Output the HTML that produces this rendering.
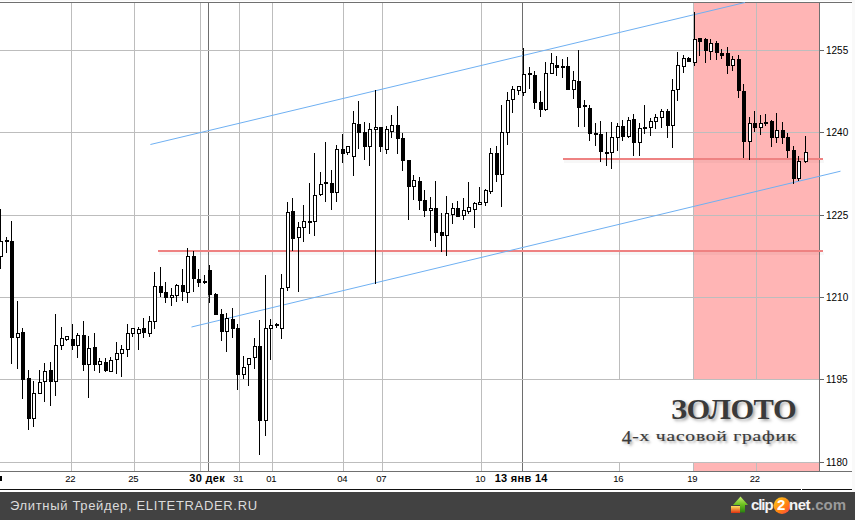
<!DOCTYPE html>
<html><head><meta charset="utf-8">
<style>
html,body{margin:0;padding:0;}
body{width:855px;height:520px;overflow:hidden;background:#fff;position:relative;font-family:"Liberation Sans",sans-serif;}
svg{position:absolute;left:0;top:0;}
.pl{position:absolute;left:826px;font-size:10px;line-height:10px;color:#000;}
.tl{position:absolute;top:473.5px;font-size:9.5px;line-height:10px;color:#000;letter-spacing:-0.35px;transform:translateX(calc(-50% - 0.8px));white-space:nowrap;}
.tb{font-weight:bold;font-size:11px;top:473px;letter-spacing:0.3px;}
.footer{position:absolute;left:0;top:492px;width:855px;height:28px;background:#424242;}
.ft{position:absolute;left:10px;top:497px;font-size:13px;line-height:18px;color:#dcdcdc;letter-spacing:0.66px;white-space:nowrap;}
.lg{position:absolute;top:496px;font-size:15px;line-height:18px;font-weight:bold;white-space:nowrap;}
.t1{position:absolute;right:59px;top:393px;font-family:"Liberation Serif",serif;font-weight:bold;font-size:29px;line-height:32px;letter-spacing:-0.5px;transform:scaleX(1.05);transform-origin:100% 50%;color:#3a3a3a;text-shadow:2px 2px 3px rgba(0,0,0,0.35);white-space:nowrap;}
.t2{position:absolute;right:58px;top:424px;font-family:"Liberation Serif",serif;font-size:19.5px;line-height:22px;letter-spacing:0.8px;transform:scaleY(0.74);transform-origin:50% 78%;-webkit-text-stroke:0.25px #3a3a3a;color:#3a3a3a;text-shadow:2px 2px 3px rgba(0,0,0,0.35);white-space:nowrap;}
</style></head><body>
<svg width="855" height="520" viewBox="0 0 855 520" shape-rendering="crispEdges">
<rect x="694" y="3" width="125" height="468" fill="#ffb5b5"/>
<rect x="71" y="3" width="1" height="468" fill="#bdbdbd"/>
<rect x="134" y="3" width="1" height="468" fill="#bdbdbd"/>
<rect x="200" y="3" width="1" height="468" fill="#bdbdbd"/>
<rect x="239" y="3" width="1" height="468" fill="#bdbdbd"/>
<rect x="272" y="3" width="1" height="468" fill="#bdbdbd"/>
<rect x="343" y="3" width="1" height="468" fill="#bdbdbd"/>
<rect x="382" y="3" width="1" height="468" fill="#bdbdbd"/>
<rect x="481" y="3" width="1" height="468" fill="#bdbdbd"/>
<rect x="619" y="3" width="1" height="468" fill="#bdbdbd"/>
<rect x="693" y="3" width="1" height="468" fill="#bdbdbd"/>
<rect x="756" y="3" width="1" height="468" fill="#bdbdbd"/>
<rect x="208" y="3" width="1" height="468" fill="#6e6e6e"/>
<rect x="522" y="3" width="1" height="468" fill="#6e6e6e"/>
<rect x="0" y="50" width="819" height="1" fill="#bdbdbd"/>
<rect x="820" y="50" width="4" height="1" fill="#666"/>
<rect x="0" y="132" width="819" height="1" fill="#bdbdbd"/>
<rect x="820" y="132" width="4" height="1" fill="#666"/>
<rect x="0" y="215" width="819" height="1" fill="#bdbdbd"/>
<rect x="820" y="215" width="4" height="1" fill="#666"/>
<rect x="0" y="297" width="819" height="1" fill="#bdbdbd"/>
<rect x="820" y="297" width="4" height="1" fill="#666"/>
<rect x="0" y="379" width="819" height="1" fill="#bdbdbd"/>
<rect x="820" y="379" width="4" height="1" fill="#666"/>
<rect x="0" y="462" width="819" height="1" fill="#bdbdbd"/>
<rect x="820" y="462" width="4" height="1" fill="#666"/>
<rect x="0" y="0" width="855" height="1" fill="#f8f8f8"/>
<rect x="0" y="2" width="852" height="1" fill="#707070"/>
<rect x="852" y="0" width="3" height="492" fill="#f9f9f9"/>
<rect x="819" y="3" width="1" height="468" fill="#707070"/>
<rect x="0" y="471" width="852" height="1" fill="#707070"/>
<rect x="0" y="489" width="801" height="1" fill="#111"/>
<rect x="802" y="489" width="50" height="1" fill="#111"/>
<rect x="159" y="252" width="665" height="3" fill="#000" fill-opacity="0.03"/>
<rect x="158" y="250" width="665" height="2" fill="#ee8282"/>
<rect x="564" y="160" width="260" height="3" fill="#000" fill-opacity="0.03"/>
<rect x="563" y="158" width="260" height="2" fill="#ee8282"/>
<rect x="540" y="380" width="279" height="82" fill="#ffffff"/>
<g shape-rendering="auto"><line x1="150.4" y1="144.5" x2="745" y2="2.5" stroke="#6fb0f2" stroke-width="1"/>
<line x1="191.5" y1="327" x2="840.5" y2="171.2" stroke="#6fb0f2" stroke-width="1"/></g>
<g fill="#000">
<rect x="0" y="209" width="1" height="60"/>
<rect x="-1" y="241" width="4" height="16"/>
<rect x="0" y="242" width="2" height="14" fill="#fff"/>
<rect x="6" y="237" width="1" height="16"/>
<rect x="5" y="240" width="4" height="2"/>
<rect x="11" y="221" width="1" height="143"/>
<rect x="10" y="241" width="4" height="97"/>
<rect x="17" y="301" width="1" height="68"/>
<rect x="16" y="333" width="4" height="5"/>
<rect x="17" y="334" width="2" height="3" fill="#fff"/>
<rect x="22" y="328" width="1" height="71"/>
<rect x="21" y="332" width="4" height="48"/>
<rect x="28" y="370" width="1" height="60"/>
<rect x="27" y="378" width="4" height="41"/>
<rect x="33" y="381" width="1" height="46"/>
<rect x="32" y="393" width="4" height="26"/>
<rect x="33" y="394" width="2" height="24" fill="#fff"/>
<rect x="39" y="370" width="1" height="24"/>
<rect x="38" y="382" width="4" height="12"/>
<rect x="39" y="383" width="2" height="10" fill="#fff"/>
<rect x="44" y="363" width="1" height="39"/>
<rect x="43" y="371" width="4" height="11"/>
<rect x="44" y="372" width="2" height="9" fill="#fff"/>
<rect x="50" y="362" width="1" height="44"/>
<rect x="49" y="370" width="4" height="12"/>
<rect x="55" y="314" width="1" height="82"/>
<rect x="54" y="345" width="4" height="37"/>
<rect x="55" y="346" width="2" height="35" fill="#fff"/>
<rect x="61" y="327" width="1" height="23"/>
<rect x="60" y="338" width="4" height="8"/>
<rect x="61" y="339" width="2" height="6" fill="#fff"/>
<rect x="66" y="336" width="1" height="5"/>
<rect x="65" y="336" width="4" height="4"/>
<rect x="66" y="337" width="2" height="2" fill="#fff"/>
<rect x="72" y="324" width="1" height="26"/>
<rect x="71" y="339" width="4" height="7"/>
<rect x="77" y="333" width="1" height="25"/>
<rect x="76" y="335" width="4" height="11"/>
<rect x="77" y="336" width="2" height="9" fill="#fff"/>
<rect x="83" y="321" width="1" height="50"/>
<rect x="82" y="335" width="4" height="30"/>
<rect x="88" y="336" width="1" height="62"/>
<rect x="87" y="348" width="4" height="17"/>
<rect x="88" y="349" width="2" height="15" fill="#fff"/>
<rect x="94" y="333" width="1" height="38"/>
<rect x="93" y="347" width="4" height="18"/>
<rect x="99" y="358" width="1" height="15"/>
<rect x="98" y="361" width="4" height="4"/>
<rect x="99" y="362" width="2" height="2" fill="#fff"/>
<rect x="105" y="358" width="1" height="14"/>
<rect x="104" y="362" width="4" height="9"/>
<rect x="110" y="357" width="1" height="15"/>
<rect x="109" y="360" width="4" height="12"/>
<rect x="110" y="361" width="2" height="10" fill="#fff"/>
<rect x="116" y="342" width="1" height="32"/>
<rect x="115" y="353" width="4" height="7"/>
<rect x="116" y="354" width="2" height="5" fill="#fff"/>
<rect x="121" y="345" width="1" height="32"/>
<rect x="120" y="349" width="4" height="5"/>
<rect x="121" y="350" width="2" height="3" fill="#fff"/>
<rect x="127" y="324" width="1" height="33"/>
<rect x="126" y="333" width="4" height="17"/>
<rect x="127" y="334" width="2" height="15" fill="#fff"/>
<rect x="132" y="328" width="1" height="9"/>
<rect x="131" y="328" width="4" height="6"/>
<rect x="132" y="329" width="2" height="4" fill="#fff"/>
<rect x="138" y="327" width="1" height="23"/>
<rect x="137" y="329" width="4" height="5"/>
<rect x="138" y="330" width="2" height="3" fill="#fff"/>
<rect x="143" y="318" width="1" height="20"/>
<rect x="142" y="328" width="4" height="5"/>
<rect x="149" y="316" width="1" height="21"/>
<rect x="148" y="321" width="4" height="13"/>
<rect x="149" y="322" width="2" height="11" fill="#fff"/>
<rect x="154" y="272" width="1" height="57"/>
<rect x="153" y="286" width="4" height="36"/>
<rect x="154" y="287" width="2" height="34" fill="#fff"/>
<rect x="160" y="267" width="1" height="30"/>
<rect x="159" y="286" width="4" height="7"/>
<rect x="165" y="282" width="1" height="21"/>
<rect x="164" y="292" width="4" height="6"/>
<rect x="171" y="288" width="1" height="18"/>
<rect x="170" y="295" width="4" height="3"/>
<rect x="171" y="296" width="2" height="1" fill="#fff"/>
<rect x="176" y="284" width="1" height="18"/>
<rect x="175" y="285" width="4" height="11"/>
<rect x="176" y="286" width="2" height="9" fill="#fff"/>
<rect x="182" y="269" width="1" height="32"/>
<rect x="181" y="285" width="4" height="7"/>
<rect x="187" y="248" width="1" height="55"/>
<rect x="186" y="256" width="4" height="37"/>
<rect x="187" y="257" width="2" height="35" fill="#fff"/>
<rect x="193" y="251" width="1" height="41"/>
<rect x="192" y="256" width="4" height="23"/>
<rect x="198" y="269" width="1" height="18"/>
<rect x="197" y="279" width="4" height="4"/>
<rect x="204" y="275" width="1" height="9"/>
<rect x="203" y="281" width="4" height="2"/>
<rect x="209" y="265" width="1" height="38"/>
<rect x="208" y="270" width="4" height="25"/>
<rect x="215" y="293" width="1" height="22"/>
<rect x="214" y="294" width="4" height="21"/>
<rect x="221" y="309" width="1" height="32"/>
<rect x="220" y="314" width="4" height="18"/>
<rect x="226" y="313" width="1" height="39"/>
<rect x="225" y="318" width="4" height="14"/>
<rect x="226" y="319" width="2" height="12" fill="#fff"/>
<rect x="232" y="308" width="1" height="30"/>
<rect x="231" y="319" width="4" height="10"/>
<rect x="237" y="324" width="1" height="66"/>
<rect x="236" y="328" width="4" height="47"/>
<rect x="243" y="356" width="1" height="23"/>
<rect x="242" y="367" width="4" height="8"/>
<rect x="243" y="368" width="2" height="6" fill="#fff"/>
<rect x="248" y="358" width="1" height="28"/>
<rect x="247" y="358" width="4" height="7"/>
<rect x="248" y="359" width="2" height="5" fill="#fff"/>
<rect x="254" y="338" width="1" height="31"/>
<rect x="253" y="346" width="4" height="12"/>
<rect x="254" y="347" width="2" height="10" fill="#fff"/>
<rect x="259" y="320" width="1" height="135"/>
<rect x="258" y="346" width="4" height="75"/>
<rect x="265" y="275" width="1" height="161"/>
<rect x="264" y="328" width="4" height="93"/>
<rect x="265" y="329" width="2" height="91" fill="#fff"/>
<rect x="270" y="319" width="1" height="41"/>
<rect x="269" y="325" width="4" height="4"/>
<rect x="270" y="326" width="2" height="2" fill="#fff"/>
<rect x="276" y="323" width="1" height="5"/>
<rect x="275" y="324" width="4" height="2"/>
<rect x="281" y="274" width="1" height="65"/>
<rect x="280" y="288" width="4" height="41"/>
<rect x="281" y="289" width="2" height="39" fill="#fff"/>
<rect x="287" y="202" width="1" height="89"/>
<rect x="286" y="212" width="4" height="76"/>
<rect x="287" y="213" width="2" height="74" fill="#fff"/>
<rect x="292" y="198" width="1" height="53"/>
<rect x="291" y="211" width="4" height="28"/>
<rect x="298" y="222" width="1" height="70"/>
<rect x="297" y="227" width="4" height="11"/>
<rect x="298" y="228" width="2" height="9" fill="#fff"/>
<rect x="303" y="205" width="1" height="37"/>
<rect x="302" y="221" width="4" height="7"/>
<rect x="303" y="222" width="2" height="5" fill="#fff"/>
<rect x="309" y="183" width="1" height="51"/>
<rect x="308" y="221" width="4" height="2"/>
<rect x="314" y="153" width="1" height="83"/>
<rect x="313" y="195" width="4" height="27"/>
<rect x="314" y="196" width="2" height="25" fill="#fff"/>
<rect x="320" y="172" width="1" height="24"/>
<rect x="319" y="184" width="4" height="11"/>
<rect x="320" y="185" width="2" height="9" fill="#fff"/>
<rect x="325" y="142" width="1" height="60"/>
<rect x="324" y="182" width="4" height="2"/>
<rect x="331" y="170" width="1" height="40"/>
<rect x="330" y="183" width="4" height="10"/>
<rect x="336" y="145" width="1" height="57"/>
<rect x="335" y="149" width="4" height="44"/>
<rect x="336" y="150" width="2" height="42" fill="#fff"/>
<rect x="342" y="134" width="1" height="29"/>
<rect x="341" y="149" width="4" height="5"/>
<rect x="347" y="146" width="1" height="9"/>
<rect x="346" y="146" width="4" height="7"/>
<rect x="347" y="147" width="2" height="5" fill="#fff"/>
<rect x="353" y="111" width="1" height="65"/>
<rect x="352" y="123" width="4" height="34"/>
<rect x="353" y="124" width="2" height="32" fill="#fff"/>
<rect x="358" y="101" width="1" height="48"/>
<rect x="357" y="124" width="4" height="9"/>
<rect x="364" y="122" width="1" height="38"/>
<rect x="363" y="132" width="4" height="15"/>
<rect x="369" y="123" width="1" height="43"/>
<rect x="368" y="129" width="4" height="18"/>
<rect x="369" y="130" width="2" height="16" fill="#fff"/>
<rect x="375" y="90" width="1" height="194"/>
<rect x="374" y="127" width="4" height="3"/>
<rect x="375" y="128" width="2" height="1" fill="#fff"/>
<rect x="380" y="127" width="1" height="25"/>
<rect x="379" y="127" width="4" height="20"/>
<rect x="386" y="126" width="1" height="28"/>
<rect x="385" y="129" width="4" height="21"/>
<rect x="386" y="130" width="2" height="19" fill="#fff"/>
<rect x="391" y="115" width="1" height="23"/>
<rect x="390" y="125" width="4" height="7"/>
<rect x="391" y="126" width="2" height="5" fill="#fff"/>
<rect x="397" y="106" width="1" height="48"/>
<rect x="396" y="125" width="4" height="14"/>
<rect x="402" y="133" width="1" height="38"/>
<rect x="401" y="138" width="4" height="23"/>
<rect x="408" y="160" width="1" height="60"/>
<rect x="407" y="160" width="4" height="27"/>
<rect x="413" y="175" width="1" height="25"/>
<rect x="412" y="180" width="4" height="7"/>
<rect x="413" y="181" width="2" height="5" fill="#fff"/>
<rect x="419" y="177" width="1" height="33"/>
<rect x="418" y="181" width="4" height="20"/>
<rect x="424" y="190" width="1" height="27"/>
<rect x="423" y="200" width="4" height="11"/>
<rect x="430" y="197" width="1" height="44"/>
<rect x="429" y="208" width="4" height="3"/>
<rect x="430" y="209" width="2" height="1" fill="#fff"/>
<rect x="435" y="181" width="1" height="66"/>
<rect x="434" y="208" width="4" height="25"/>
<rect x="441" y="213" width="1" height="39"/>
<rect x="440" y="232" width="4" height="4"/>
<rect x="446" y="196" width="1" height="60"/>
<rect x="445" y="213" width="4" height="23"/>
<rect x="446" y="214" width="2" height="21" fill="#fff"/>
<rect x="452" y="203" width="1" height="21"/>
<rect x="451" y="208" width="4" height="7"/>
<rect x="452" y="209" width="2" height="5" fill="#fff"/>
<rect x="457" y="201" width="1" height="16"/>
<rect x="456" y="208" width="4" height="9"/>
<rect x="463" y="198" width="1" height="22"/>
<rect x="462" y="210" width="4" height="6"/>
<rect x="463" y="211" width="2" height="4" fill="#fff"/>
<rect x="468" y="182" width="1" height="32"/>
<rect x="467" y="207" width="4" height="5"/>
<rect x="468" y="208" width="2" height="3" fill="#fff"/>
<rect x="474" y="202" width="1" height="26"/>
<rect x="473" y="203" width="4" height="7"/>
<rect x="474" y="204" width="2" height="5" fill="#fff"/>
<rect x="479" y="187" width="1" height="18"/>
<rect x="478" y="202" width="4" height="3"/>
<rect x="479" y="203" width="2" height="1" fill="#fff"/>
<rect x="485" y="189" width="1" height="17"/>
<rect x="484" y="190" width="4" height="13"/>
<rect x="485" y="191" width="2" height="11" fill="#fff"/>
<rect x="490" y="148" width="1" height="46"/>
<rect x="489" y="153" width="4" height="39"/>
<rect x="490" y="154" width="2" height="37" fill="#fff"/>
<rect x="496" y="146" width="1" height="36"/>
<rect x="495" y="153" width="4" height="22"/>
<rect x="501" y="105" width="1" height="102"/>
<rect x="500" y="132" width="4" height="43"/>
<rect x="501" y="133" width="2" height="41" fill="#fff"/>
<rect x="507" y="92" width="1" height="53"/>
<rect x="506" y="100" width="4" height="33"/>
<rect x="507" y="101" width="2" height="31" fill="#fff"/>
<rect x="512" y="86" width="1" height="27"/>
<rect x="511" y="89" width="4" height="11"/>
<rect x="512" y="90" width="2" height="9" fill="#fff"/>
<rect x="518" y="86" width="1" height="9"/>
<rect x="517" y="86" width="4" height="5"/>
<rect x="518" y="87" width="2" height="3" fill="#fff"/>
<rect x="523" y="48" width="1" height="48"/>
<rect x="522" y="74" width="4" height="19"/>
<rect x="523" y="75" width="2" height="17" fill="#fff"/>
<rect x="529" y="67" width="1" height="22"/>
<rect x="528" y="73" width="4" height="2"/>
<rect x="534" y="71" width="1" height="38"/>
<rect x="533" y="75" width="4" height="28"/>
<rect x="540" y="91" width="1" height="26"/>
<rect x="539" y="102" width="4" height="8"/>
<rect x="545" y="62" width="1" height="49"/>
<rect x="544" y="73" width="4" height="37"/>
<rect x="545" y="74" width="2" height="35" fill="#fff"/>
<rect x="551" y="53" width="1" height="21"/>
<rect x="550" y="63" width="4" height="11"/>
<rect x="551" y="64" width="2" height="9" fill="#fff"/>
<rect x="556" y="56" width="1" height="20"/>
<rect x="555" y="65" width="4" height="3"/>
<rect x="562" y="59" width="1" height="19"/>
<rect x="561" y="66" width="4" height="2"/>
<rect x="567" y="57" width="1" height="33"/>
<rect x="566" y="66" width="4" height="24"/>
<rect x="573" y="71" width="1" height="28"/>
<rect x="572" y="80" width="4" height="10"/>
<rect x="573" y="81" width="2" height="8" fill="#fff"/>
<rect x="578" y="50" width="1" height="77"/>
<rect x="577" y="81" width="4" height="27"/>
<rect x="584" y="100" width="1" height="27"/>
<rect x="583" y="105" width="4" height="2"/>
<rect x="589" y="105" width="1" height="36"/>
<rect x="588" y="108" width="4" height="26"/>
<rect x="595" y="123" width="1" height="23"/>
<rect x="594" y="133" width="4" height="2"/>
<rect x="600" y="121" width="1" height="41"/>
<rect x="599" y="134" width="4" height="18"/>
<rect x="606" y="132" width="1" height="34"/>
<rect x="605" y="152" width="4" height="2"/>
<rect x="611" y="122" width="1" height="47"/>
<rect x="610" y="137" width="4" height="16"/>
<rect x="611" y="138" width="2" height="14" fill="#fff"/>
<rect x="617" y="123" width="1" height="28"/>
<rect x="616" y="126" width="4" height="12"/>
<rect x="617" y="127" width="2" height="10" fill="#fff"/>
<rect x="622" y="120" width="1" height="21"/>
<rect x="621" y="126" width="4" height="11"/>
<rect x="628" y="117" width="1" height="21"/>
<rect x="627" y="120" width="4" height="17"/>
<rect x="628" y="121" width="2" height="15" fill="#fff"/>
<rect x="633" y="114" width="1" height="42"/>
<rect x="632" y="119" width="4" height="24"/>
<rect x="639" y="123" width="1" height="33"/>
<rect x="638" y="128" width="4" height="15"/>
<rect x="639" y="129" width="2" height="13" fill="#fff"/>
<rect x="644" y="105" width="1" height="29"/>
<rect x="643" y="127" width="4" height="2"/>
<rect x="650" y="118" width="1" height="18"/>
<rect x="649" y="121" width="4" height="7"/>
<rect x="650" y="122" width="2" height="5" fill="#fff"/>
<rect x="655" y="114" width="1" height="15"/>
<rect x="654" y="117" width="4" height="5"/>
<rect x="655" y="118" width="2" height="3" fill="#fff"/>
<rect x="661" y="109" width="1" height="19"/>
<rect x="660" y="111" width="4" height="7"/>
<rect x="661" y="112" width="2" height="5" fill="#fff"/>
<rect x="667" y="109" width="1" height="29"/>
<rect x="666" y="111" width="4" height="15"/>
<rect x="672" y="79" width="1" height="69"/>
<rect x="671" y="90" width="4" height="36"/>
<rect x="672" y="91" width="2" height="34" fill="#fff"/>
<rect x="677" y="52" width="1" height="49"/>
<rect x="676" y="65" width="4" height="25"/>
<rect x="677" y="66" width="2" height="23" fill="#fff"/>
<rect x="683" y="55" width="1" height="18"/>
<rect x="682" y="58" width="4" height="9"/>
<rect x="683" y="59" width="2" height="7" fill="#fff"/>
<rect x="688" y="57" width="1" height="5"/>
<rect x="687" y="58" width="4" height="4"/>
<rect x="694" y="12" width="1" height="54"/>
<rect x="693" y="39" width="4" height="24"/>
<rect x="694" y="40" width="2" height="22" fill="#fff"/>
<rect x="699" y="38" width="1" height="18"/>
<rect x="698" y="38" width="4" height="4"/>
<rect x="705" y="38" width="1" height="25"/>
<rect x="704" y="39" width="4" height="12"/>
<rect x="710" y="39" width="1" height="21"/>
<rect x="709" y="43" width="4" height="9"/>
<rect x="710" y="44" width="2" height="7" fill="#fff"/>
<rect x="716" y="41" width="1" height="19"/>
<rect x="715" y="43" width="4" height="10"/>
<rect x="721" y="49" width="1" height="10"/>
<rect x="720" y="53" width="4" height="3"/>
<rect x="727" y="47" width="1" height="27"/>
<rect x="726" y="53" width="4" height="13"/>
<rect x="732" y="56" width="1" height="15"/>
<rect x="731" y="59" width="4" height="7"/>
<rect x="732" y="60" width="2" height="5" fill="#fff"/>
<rect x="738" y="55" width="1" height="43"/>
<rect x="737" y="59" width="4" height="32"/>
<rect x="743" y="84" width="1" height="74"/>
<rect x="742" y="91" width="4" height="51"/>
<rect x="749" y="117" width="1" height="43"/>
<rect x="748" y="123" width="4" height="19"/>
<rect x="749" y="124" width="2" height="17" fill="#fff"/>
<rect x="754" y="111" width="1" height="21"/>
<rect x="753" y="123" width="4" height="5"/>
<rect x="760" y="115" width="1" height="20"/>
<rect x="759" y="123" width="4" height="5"/>
<rect x="760" y="124" width="2" height="3" fill="#fff"/>
<rect x="765" y="114" width="1" height="12"/>
<rect x="764" y="122" width="4" height="2"/>
<rect x="771" y="120" width="1" height="27"/>
<rect x="770" y="121" width="4" height="17"/>
<rect x="776" y="113" width="1" height="30"/>
<rect x="775" y="130" width="4" height="8"/>
<rect x="776" y="131" width="2" height="6" fill="#fff"/>
<rect x="782" y="122" width="1" height="22"/>
<rect x="781" y="130" width="4" height="8"/>
<rect x="787" y="133" width="1" height="25"/>
<rect x="786" y="137" width="4" height="14"/>
<rect x="793" y="146" width="1" height="38"/>
<rect x="792" y="150" width="4" height="29"/>
<rect x="798" y="156" width="1" height="25"/>
<rect x="797" y="161" width="4" height="18"/>
<rect x="798" y="162" width="2" height="16" fill="#fff"/>
<rect x="805" y="136" width="1" height="27"/>
<rect x="804" y="152" width="4" height="10"/>
<rect x="805" y="153" width="2" height="8" fill="#fff"/>
</g>
</svg>
<div class="pl" style="top:46px">1255</div>
<div class="pl" style="top:128px">1240</div>
<div class="pl" style="top:211px">1225</div>
<div class="pl" style="top:293px">1210</div>
<div class="pl" style="top:375px">1195</div>
<div class="pl" style="top:458px">1180</div>
<div style="position:absolute;left:0;top:476px;width:2px;height:5px;background:#000"></div>
<div class="tl" style="left:71px">22</div>
<div class="tl" style="left:134px">25</div>
<div class="tl tb" style="left:208px">30 дек</div>
<div class="tl" style="left:239px">31</div>
<div class="tl" style="left:272px">01</div>
<div class="tl" style="left:343px">04</div>
<div class="tl" style="left:382px">07</div>
<div class="tl" style="left:481px">10</div>
<div class="tl tb" style="left:522px">13 янв 14</div>
<div class="tl" style="left:619px">16</div>
<div class="tl" style="left:693px">19</div>
<div class="tl" style="left:755.5px">22</div>
<div class="t1">ЗОЛОТО</div>
<div class="t2"><span style="display:inline-block;transform:scaleY(1.3) translateY(1.5px)">4</span>-х часовой график</div>
<div class="footer"></div>
<div class="ft">Элитный Трейдер, ELITETRADER.RU</div>
<svg width="855" height="520" style="position:absolute;left:0;top:0">
<defs>
<linearGradient id="ga" x1="0" y1="0" x2="0" y2="1"><stop offset="0" stop-color="#c8f070"/><stop offset="0.5" stop-color="#6cc020"/><stop offset="1" stop-color="#2a8010"/></linearGradient>
<linearGradient id="go" x1="0" y1="0" x2="0" y2="1"><stop offset="0" stop-color="#ffe060"/><stop offset="1" stop-color="#e03010"/></linearGradient>
<linearGradient id="gc" x1="0" y1="0" x2="1" y2="1"><stop offset="0" stop-color="#ffd020"/><stop offset="0.6" stop-color="#ff8010"/><stop offset="1" stop-color="#ff3a50"/></linearGradient>
</defs>
<rect x="731" y="506" width="9" height="7" fill="url(#go)"/>
<path d="M740 512.5 V505 H733 L740.5 496.5 L748 505 H745 V512.5 Z" fill="url(#ga)"/>
<circle cx="782" cy="505.6" r="8.4" fill="url(#gc)"/>
</svg>
<div class="lg" style="left:751px;color:#f4f4f4;letter-spacing:-1.1px">clip</div>
<div class="lg" style="left:777px;color:#fff;font-size:15px">2</div>
<div class="lg" style="left:789px;color:#f4f4f4;letter-spacing:-0.5px">net</div>
<div class="lg" style="left:811px;color:#9a9a9a;letter-spacing:0px">.com</div>
</body></html>
